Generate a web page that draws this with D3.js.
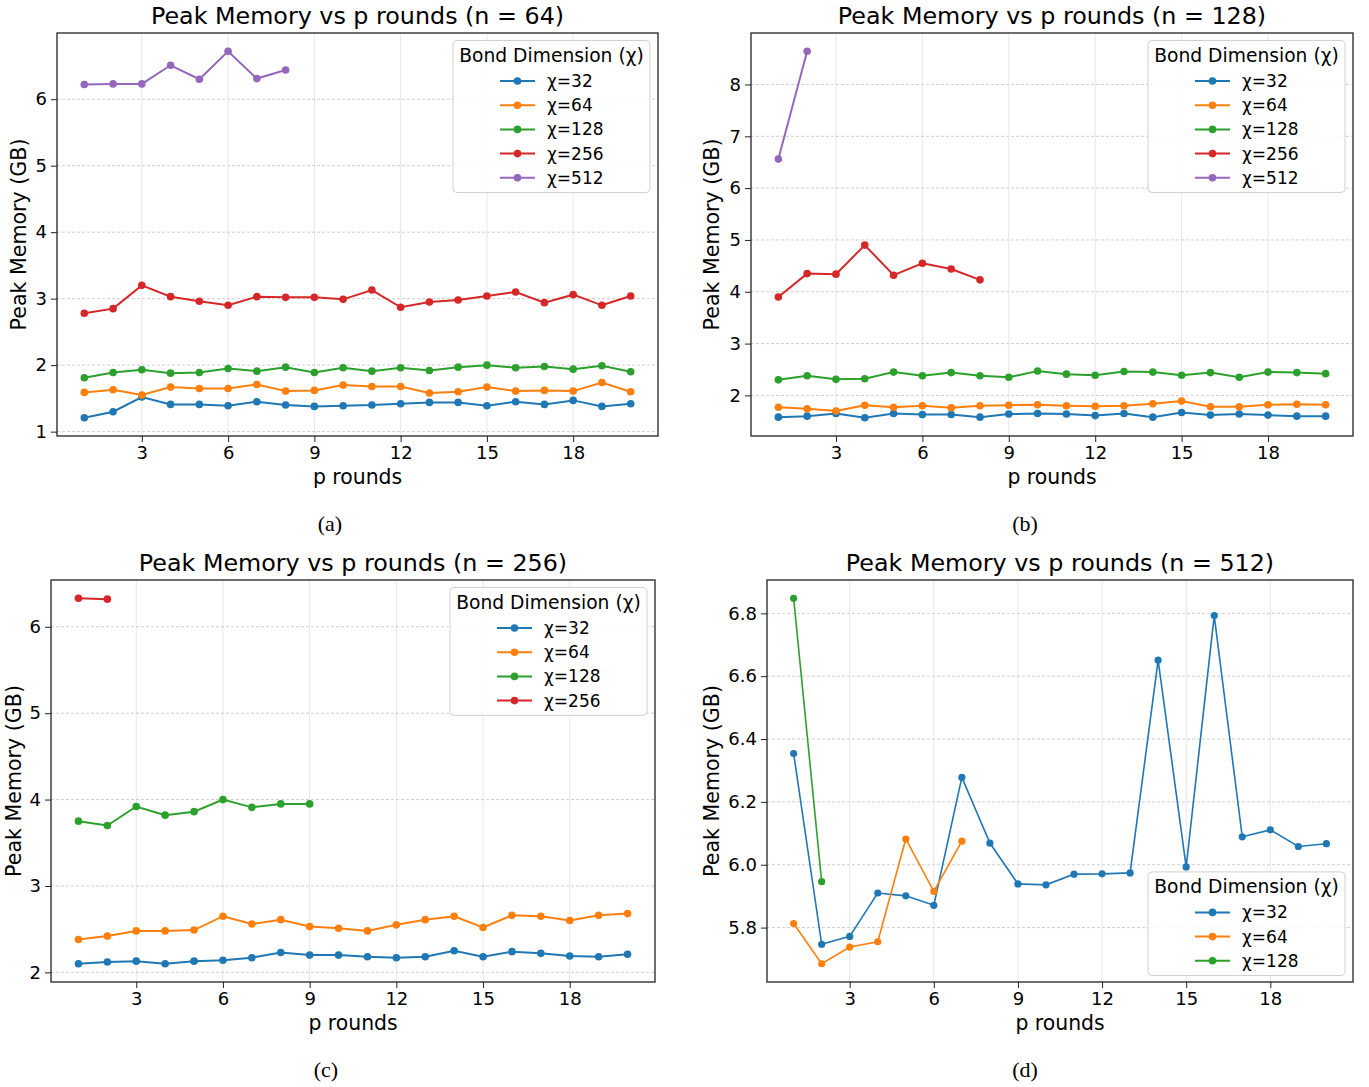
<!DOCTYPE html>
<html>
<head>
<meta charset="utf-8">
<script src="https://cdn.jsdelivr.net/npm/d3@7"></script>
<style>
  body { margin: 0; background: #fff; }
  svg text { font-family: "DejaVu Sans", sans-serif; fill: #000; }
</style>
</head>
<body>
<svg id="chart" width="1369" height="1087"></svg>
<script>
// p rounds on the x axis
const pRounds = [1, 2, 3, 4, 5, 6, 7, 8, 9, 10, 11, 12, 13, 14, 15, 16, 17, 18, 19, 20];

// n = 64
const mem64_chi32  = [1.21, 1.30, 1.52, 1.41, 1.41, 1.39, 1.45, 1.40, 1.38, 1.39, 1.40, 1.42, 1.44, 1.44, 1.39, 1.45, 1.41, 1.47, 1.38, 1.42];
const mem64_chi64  = [1.59, 1.63, 1.55, 1.67, 1.65, 1.65, 1.71, 1.61, 1.62, 1.70, 1.68, 1.68, 1.58, 1.60, 1.67, 1.61, 1.62, 1.61, 1.74, 1.60];
const mem64_chi128 = [1.81, 1.89, 1.93, 1.88, 1.89, 1.95, 1.91, 1.97, 1.89, 1.96, 1.91, 1.96, 1.92, 1.97, 2.00, 1.96, 1.98, 1.94, 1.99, 1.90];
const mem64_chi256 = [2.78, 2.85, 3.20, 3.03, 2.96, 2.90, 3.03, 3.02, 3.02, 2.99, 3.13, 2.87, 2.95, 2.98, 3.04, 3.10, 2.94, 3.06, 2.90, 3.04];
const mem64_chi512 = [6.22, 6.23, 6.23, 6.51, 6.30, 6.72, 6.31, 6.44];

// n = 128
const mem128_chi32  = [1.58, 1.60, 1.65, 1.57, 1.65, 1.63, 1.63, 1.58, 1.64, 1.65, 1.64, 1.61, 1.65, 1.58, 1.67, 1.62, 1.64, 1.62, 1.60, 1.60];
const mem128_chi64  = [1.77, 1.74, 1.70, 1.81, 1.77, 1.80, 1.76, 1.80, 1.81, 1.82, 1.80, 1.79, 1.80, 1.84, 1.89, 1.78, 1.78, 1.82, 1.83, 1.82];
const mem128_chi128 = [2.30, 2.38, 2.31, 2.32, 2.45, 2.38, 2.44, 2.38, 2.35, 2.47, 2.41, 2.39, 2.46, 2.45, 2.39, 2.44, 2.35, 2.45, 2.44, 2.42];
const mem128_chi256 = [3.90, 4.35, 4.34, 4.90, 4.32, 4.55, 4.44, 4.23];
const mem128_chi512 = [6.56, 8.64];

// n = 256
const mem256_chi32  = [2.10, 2.12, 2.13, 2.10, 2.13, 2.14, 2.17, 2.23, 2.20, 2.20, 2.18, 2.17, 2.18, 2.25, 2.18, 2.24, 2.22, 2.19, 2.18, 2.21];
const mem256_chi64  = [2.38, 2.42, 2.48, 2.48, 2.49, 2.65, 2.56, 2.61, 2.53, 2.51, 2.48, 2.55, 2.61, 2.65, 2.52, 2.66, 2.65, 2.60, 2.66, 2.68];
const mem256_chi128 = [3.75, 3.70, 3.92, 3.82, 3.86, 4.00, 3.91, 3.95, 3.95];
const mem256_chi256 = [6.33, 6.32];

// n = 512
const mem512_chi32  = [6.354, 5.747, 5.772, 5.910, 5.901, 5.871, 6.278, 6.069, 5.939, 5.936, 5.970, 5.971, 5.974, 6.651, 5.993, 6.793, 6.089, 6.111, 6.058, 6.067];
const mem512_chi64  = [5.813, 5.685, 5.738, 5.755, 6.082, 5.915, 6.075];
const mem512_chi128 = [6.848, 5.946];

const chiLabels = ["χ=32", "χ=64", "χ=128", "χ=256", "χ=512"];
const chiColors = ["#1f77b4", "#ff7f0e", "#2ca02c", "#d62728", "#9467bd"];

const xTicks = [3, 6, 9, 12, 15, 18];
const yTicks64 = [1, 2, 3, 4, 5, 6];
const yTicks128 = [2, 3, 4, 5, 6, 7, 8];
const yTicks256 = [2, 3, 4, 5, 6];
const yTicks512 = [5.8, 6.0, 6.2, 6.4, 6.6, 6.8];

const panelTitles = [
  "Peak Memory vs p rounds (n = 64)",
  "Peak Memory vs p rounds (n = 128)",
  "Peak Memory vs p rounds (n = 256)",
  "Peak Memory vs p rounds (n = 512)"
];
const captions = ["(a)", "(b)", "(c)", "(d)"];

const svg = d3.select("#chart");
svg.append("rect").attr("width", 1369).attr("height", 1087).attr("fill", "#fff");

function drawPanel(cfg) {
  const g = svg.append("g");
  const pad = (d3.max(pRounds) - d3.min(pRounds)) * 0.05;
  const x = d3.scaleLinear()
    .domain([d3.min(pRounds) - pad, d3.max(pRounds) + pad])
    .range([cfg.left, cfg.right]);
  const all = d3.merge(cfg.series);
  const ypad = (d3.max(all) - d3.min(all)) * 0.05;
  const y = d3.scaleLinear()
    .domain([d3.min(all) - ypad, d3.max(all) + ypad])
    .range([cfg.bottom, cfg.top]);

  // grid
  g.selectAll(".vgrid").data(xTicks).enter().append("line")
    .attr("x1", d => x(d)).attr("x2", d => x(d))
    .attr("y1", cfg.top).attr("y2", cfg.bottom)
    .attr("stroke", "#e6e6e6").attr("stroke-width", 1);
  g.selectAll(".hgrid").data(cfg.yTicks).enter().append("line")
    .attr("x1", cfg.left).attr("x2", cfg.right)
    .attr("y1", d => y(d)).attr("y2", d => y(d))
    .attr("stroke", "#cfcfcf").attr("stroke-width", 1)
    .attr("stroke-dasharray", "3,2");

  // axes
  const xAxis = g.append("g")
    .attr("transform", "translate(0," + cfg.bottom + ")")
    .call(d3.axisBottom(x).tickValues(xTicks).tickSize(6).tickPadding(4));
  const yAxis = g.append("g")
    .attr("transform", "translate(" + cfg.left + ",0)")
    .call(d3.axisLeft(y).tickValues(cfg.yTicks).tickFormat(cfg.yFormat).tickSize(6).tickPadding(4));
  [xAxis, yAxis].forEach(a => {
    a.select(".domain").remove();
    a.selectAll("text").style("font-size", "18px").style("font-family", "DejaVu Sans");
    a.selectAll("line").attr("stroke", "#222");
  });

  // lines
  const line = d3.line().x((d, i) => x(pRounds[i])).y(d => y(d));
  cfg.series.forEach((s, k) => {
    g.append("path").datum(s)
      .attr("d", line)
      .attr("fill", "none")
      .attr("stroke", chiColors[k])
      .attr("stroke-width", cfg.lineWidth);
    g.selectAll(".pt" + k).data(s).enter().append("circle")
      .attr("cx", (d, i) => x(pRounds[i]))
      .attr("cy", d => y(d))
      .attr("r", cfg.r)
      .attr("fill", chiColors[k]);
  });

  // frame
  g.append("rect")
    .attr("x", cfg.left).attr("y", cfg.top)
    .attr("width", cfg.right - cfg.left).attr("height", cfg.bottom - cfg.top)
    .attr("fill", "none").attr("stroke", "#222").attr("stroke-width", 1.3);

  // title and labels
  g.append("text")
    .attr("x", (cfg.left + cfg.right) / 2).attr("y", cfg.top - 9)
    .attr("text-anchor", "middle").style("font-size", "23.8px")
    .text(cfg.title);
  g.append("text")
    .attr("x", (cfg.left + cfg.right) / 2).attr("y", cfg.bottom + 48)
    .attr("text-anchor", "middle").style("font-size", "20.4px")
    .text("p rounds");
  g.append("text")
    .attr("transform", "translate(" + cfg.yLabelX + "," + (cfg.top + cfg.bottom) / 2 + ") rotate(-90)")
    .attr("text-anchor", "middle").style("font-size", "20.6px")
    .text("Peak Memory (GB)");
  g.append("text")
    .attr("x", cfg.captionX).attr("y", cfg.bottom + 95)
    .attr("text-anchor", "middle")
    .style("font-family", "'Liberation Serif', serif").style("font-size", "22px")
    .text(cfg.caption);

  // legend
  const n = cfg.series.length;
  const lw = 197, lh = 31 + n * 24.2;
  const lx = cfg.right - 8 - lw;
  const ly = cfg.legendPos === "upper" ? cfg.top + 7.5 : cfg.bottom - 6.5 - lh;
  const lg = g.append("g").attr("transform", "translate(" + lx + "," + ly + ")");
  lg.append("rect").attr("width", lw).attr("height", lh).attr("rx", 4)
    .attr("fill", "#fff").attr("fill-opacity", 0.85)
    .attr("stroke", "#d0d0d0").attr("stroke-width", 1);
  lg.append("text").attr("x", lw / 2).attr("y", 21)
    .attr("text-anchor", "middle").style("font-size", "18.7px")
    .text("Bond Dimension (χ)");
  for (let k = 0; k < n; k++) {
    const yy = 40.5 + k * 24.2;
    lg.append("line").attr("x1", 47).attr("x2", 82).attr("y1", yy).attr("y2", yy)
      .attr("stroke", chiColors[k]).attr("stroke-width", 2);
    lg.append("circle").attr("cx", 64.5).attr("cy", yy).attr("r", 3.8).attr("fill", chiColors[k]);
    lg.append("text").attr("x", 94).attr("y", yy + 6)
      .style("font-size", "17px").text(chiLabels[k]);
  }
}

drawPanel({
  left: 57, right: 658, top: 33, bottom: 436,
  title: panelTitles[0], caption: captions[0], captionX: 330, yLabelX: 26,
  series: [mem64_chi32, mem64_chi64, mem64_chi128, mem64_chi256, mem64_chi512],
  yTicks: yTicks64, yFormat: d3.format("d"), legendPos: "upper", lineWidth: 2, r: 3.8
});
drawPanel({
  left: 751, right: 1353, top: 33, bottom: 436,
  title: panelTitles[1], caption: captions[1], captionX: 1025, yLabelX: 719,
  series: [mem128_chi32, mem128_chi64, mem128_chi128, mem128_chi256, mem128_chi512],
  yTicks: yTicks128, yFormat: d3.format("d"), legendPos: "upper", lineWidth: 2, r: 3.8
});
drawPanel({
  left: 51, right: 655, top: 580, bottom: 982,
  title: panelTitles[2], caption: captions[2], captionX: 326, yLabelX: 21,
  series: [mem256_chi32, mem256_chi64, mem256_chi128, mem256_chi256],
  yTicks: yTicks256, yFormat: d3.format("d"), legendPos: "upper", lineWidth: 2, r: 3.8
});
drawPanel({
  left: 767, right: 1353, top: 580, bottom: 982,
  title: panelTitles[3], caption: captions[3], captionX: 1025, yLabelX: 719,
  series: [mem512_chi32, mem512_chi64, mem512_chi128],
  yTicks: yTicks512, yFormat: d3.format(".1f"), legendPos: "lower", lineWidth: 1.6, r: 3.6
});
</script>
</body>
</html>
